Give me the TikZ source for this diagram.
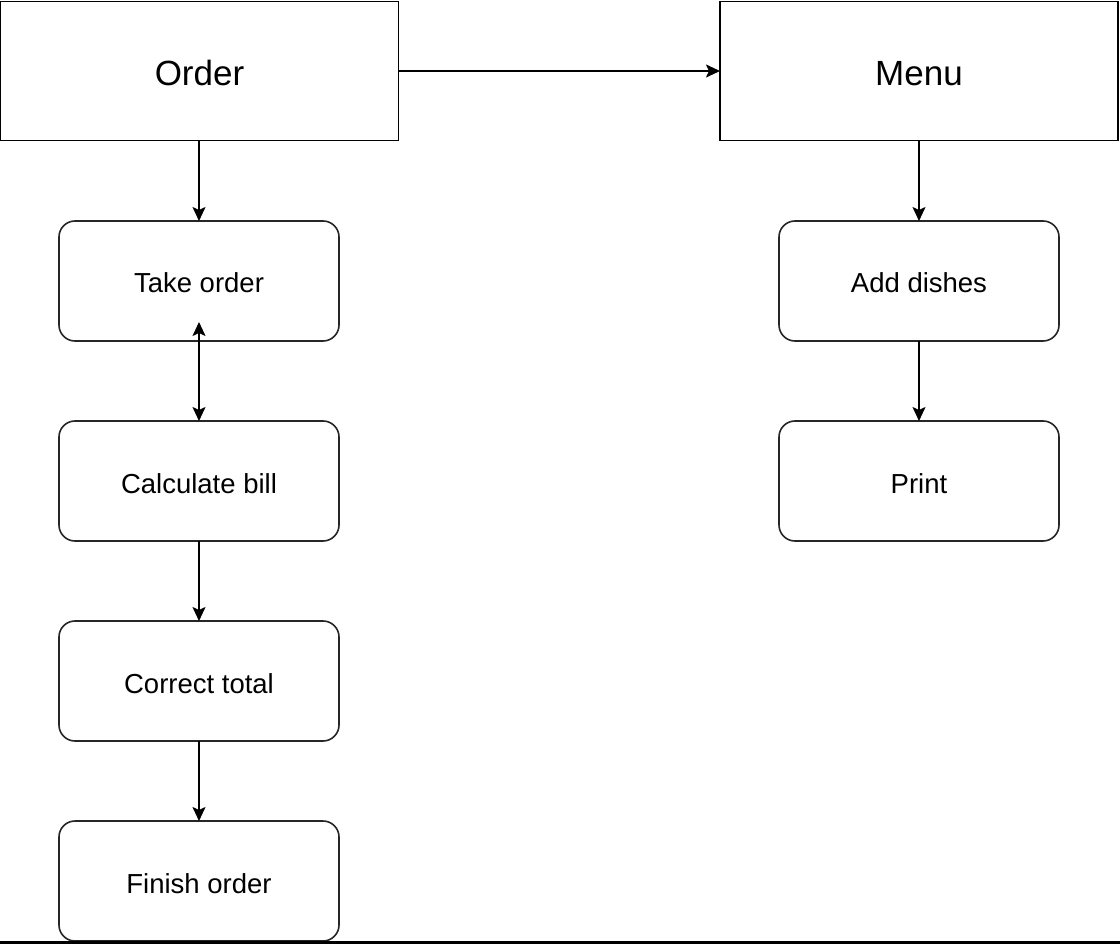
\documentclass[tikz,border=0pt]{standalone}
\usepackage{fontspec}
\setmainfont{Liberation Sans}
\usetikzlibrary{arrows.meta}
\begin{document}
\begin{tikzpicture}[x=1pt,y=-1pt,
  bigbox/.style={draw=black, line width=1.8pt, fill=white, minimum width=398pt, minimum height=139pt, inner sep=0pt, outer sep=0pt, text height=30pt, text depth=0pt, font=\fontsize{35}{40}\selectfont},
  stepbox/.style={draw=black!85, line width=1.6pt, fill=white, rounded corners=16pt, minimum width=280pt, minimum height=120pt, inner sep=0pt, outer sep=0pt, text height=24pt, text depth=0pt, font=\fontsize{27.5}{32}\selectfont},
  arr/.style={draw=black, line width=1.8pt, -{Stealth[length=14pt,width=13pt,inset=3pt]}},
  arrtwo/.style={draw=black, line width=1.8pt, {Stealth[length=14pt,width=13pt,inset=3pt]}-{Stealth[length=14pt,width=13pt,inset=3pt]}}
]
\useasboundingbox (0,0) rectangle (1120,944);
\fill[white] (0,0) rectangle (1120,944);
\node[bigbox] (order) at (199.5,71) {Order};
\node[bigbox] (menu) at (919,71) {Menu};
\node[stepbox] (take) at (199,281) {Take order};
\node[stepbox] (calc) at (199,481) {Calculate bill};
\node[stepbox] (corr) at (199,681) {Correct total};
\node[stepbox] (fin) at (199,881) {Finish order};
\node[stepbox] (add) at (919,281) {Add dishes};
\node[stepbox] (print) at (919,481) {Print};
\draw[arr] (order.east) -- (menu.west);
\draw[arr] (order.south -| take.north) -- (take.north);
\draw[arrtwo] ([yshift=19pt]take.south) -- (calc.north);
\draw[arr] (calc.south) -- (corr.north);
\draw[arr] (corr.south) -- (fin.north);
\draw[arr] (menu.south) -- (add.north);
\draw[arr] (add.south) -- (print.north);
\draw[line width=3pt, black] (0,942.5) -- (1120,942.5);
\end{tikzpicture}
\end{document}
